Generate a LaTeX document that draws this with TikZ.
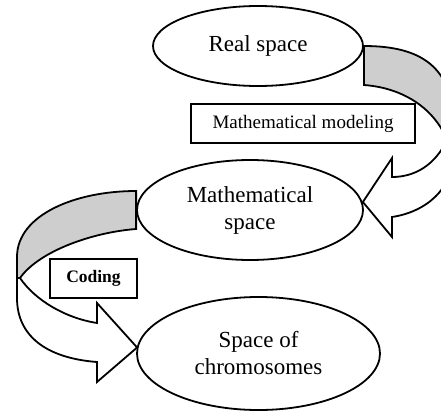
\documentclass[tikz,border=0pt]{standalone}
\usepackage{fontspec}
\setmainfont{Liberation Serif}
\usepackage{tikz}
\usetikzlibrary{shapes.geometric,calc}
\definecolor{bandgrey}{RGB}{206,206,206}
\tikzset{
  spc/.style={draw=black, line width=1.8pt, fill=white, ellipse,
              inner sep=0pt, align=center,
              font=\fontsize{23}{27}\selectfont},
  tag/.style={draw=black, line width=1.8pt, fill=white, rectangle,
              inner sep=0pt, minimum height=39pt,
              font=\fontsize{19}{22}\selectfont},
  back/.style={draw=black, line width=1.8pt, fill=bandgrey},
  front/.style={back, fill=white},
}

\begin{document}
\begin{tikzpicture}[x=1pt,y=-1pt]
\useasboundingbox (0,0) rectangle (441,415);
\clip (0,0) rectangle (441,415);
\node[spc, minimum width=210pt, minimum height=80pt] (real) at (258,46) {Real space};
\node[spc, minimum width=226pt, minimum height=100pt] (math) at (250,210) {Mathematical\\space};
\node[spc, minimum width=243pt, minimum height=113pt] (chrom) at (258.5,353.5) {Space of\\chromosomes};
\node[tag, minimum width=224pt] (model) at (303,123.5) {Mathematical modeling};
\node[tag, minimum width=87pt, font=\fontsize{17.5}{20}\selectfont\bfseries] (code) at (93.5,278.5) {Coding};
\draw[back] (real.east) .. controls (420,46) and (454,66) .. (454,128) -- (454,140)
  -- (447,140) .. controls (435,110) and (405,88) .. ($(real.east)+(0,39)$) -- cycle;
\draw[front] (447,140) .. controls (435,165) and (415,177) .. (392,177)
  -- (392,158) -- ($(math.east)+(-1,-8)$) -- (392,237) -- (392,217)
  .. controls (425,212) and (454,190) .. (454,150) -- (454,140) -- cycle;
\draw[back] ($(math.west)+(0,-19)$) .. controls (75,191) and (17,215) .. (17,257)
  -- (17,278) -- (20,278) .. controls (40,250) and (95,232) .. ($(math.west)+(0,19)$) -- cycle;
\draw[front] (20,278) .. controls (35,300) and (65,318) .. (97,323)
  -- (97,303) -- ($(chrom.west)+(1,-6)$) -- (97,382) -- (97,362)
  .. controls (45,358) and (17,335) .. (17,298) -- (17,278) -- cycle;
\end{tikzpicture}
\end{document}
